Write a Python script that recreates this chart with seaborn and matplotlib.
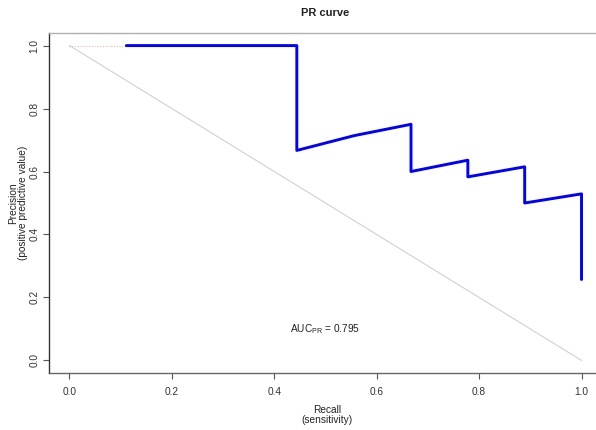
import matplotlib
matplotlib.use("Agg")
import matplotlib.pyplot as plt
import seaborn as sns
import pandas as pd

recall = [0.111, 0.444, 0.444, 0.556, 0.667, 0.667, 0.778, 0.778, 0.889, 0.889, 1.0, 1.0]
precision = [1.0, 1.0, 0.667, 0.714, 0.75, 0.6, 0.636, 0.583, 0.615, 0.5, 0.529, 0.257]
ext_recall = [0.0, 0.111]
ext_precision = [1.0, 1.0]
diag_x = [0.0, 1.0]
diag_y = [1.0, 0.0]
ticks = [0.0, 0.2, 0.4, 0.6, 0.8, 1.0]
tick_labels = ["0.0", "0.2", "0.4", "0.6", "0.8", "1.0"]
auc_text = r"$\mathregular{AUC_{PR}}$ = 0.795"

sns.set_theme(style="white")
plt.rcParams["font.family"] = ["Liberation Sans", "DejaVu Sans"]
plt.rcParams["mathtext.fontset"] = "custom"
plt.rcParams["mathtext.rm"] = "Liberation Sans"

fig = plt.figure(figsize=(5.96, 4.30), dpi=100)
ax = fig.add_axes([49/596, (430-373)/430, (602-49)/596, (373-33)/430])

df = pd.DataFrame({"recall": recall, "precision": precision})
sns.lineplot(data=df, x="recall", y="precision", sort=False, estimator=None,
             color="#0000FF", linewidth=2.1, ax=ax, zorder=3)
sns.lineplot(x=diag_x, y=diag_y, sort=False, estimator=None,
             color="#d0d0d0", linewidth=0.8, ax=ax, zorder=1)
sns.lineplot(x=ext_recall, y=ext_precision, sort=False, estimator=None,
             color="#f4b8a8", linewidth=0.8, linestyle=(0, (1, 1.5)), ax=ax, zorder=2)

ax.set_xlim(-0.04, 1.04)
ax.set_ylim(-0.04, 1.04)
ax.set_xticks(ticks)
ax.set_xticklabels(tick_labels)
ax.set_yticks(ticks)
ax.set_yticklabels(tick_labels, rotation=90, va="center")
ax.tick_params(axis="both", which="both", direction="out", length=4, width=0.8,
               color="#555555", labelcolor="#333333", labelsize=7.3,
               bottom=True, left=True)
ax.tick_params(axis="x", pad=6)
ax.tick_params(axis="y", pad=3)

ax.spines["left"].set_color("#333333")
ax.spines["left"].set_linewidth(1.0)
ax.spines["bottom"].set_color("#666666")
ax.spines["bottom"].set_linewidth(1.0)
ax.spines["top"].set_color("#b0b0b0")
ax.spines["top"].set_linewidth(1.0)
ax.spines["right"].set_visible(False)

ax.set_xlabel("Recall\n(sensitivity)", fontsize=7.3, color="#222222", linespacing=1.05)
ax.xaxis.label.set_va("center")
ax.xaxis.set_label_coords((327-49)/553, (373-415)/340)
ax.set_ylabel("Precision\n(positive predictive value)", fontsize=7.3, color="#222222", linespacing=1.05)
ax.yaxis.label.set_va("center")
ax.yaxis.set_label_coords((18-49)/553, 0.5)
ax.set_title("PR curve", fontsize=8, fontweight="bold", color="#222222", pad=12)

ax.text(0.5, 0.10, auc_text, ha="center", va="center", fontsize=7.3, color="#222222")

fig.savefig("out.png", dpi=100)
